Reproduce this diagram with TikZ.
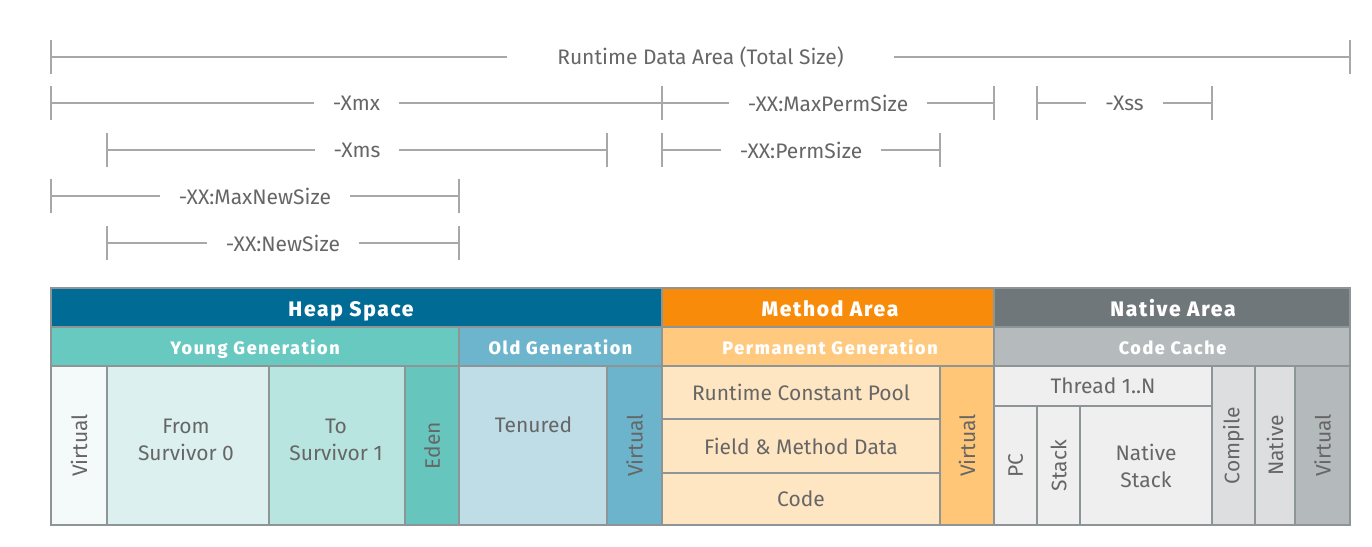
\documentclass[tikz,border=0pt]{standalone}
\usepackage{fontspec}
\setmainfont{Fira Sans}
\usetikzlibrary{arrows.meta}
\definecolor{dimc}{HTML}{A8A8A8}
\definecolor{txtc}{HTML}{666666}
\definecolor{bordc}{HTML}{8E9597}
\definecolor{heapc}{HTML}{006B95}
\definecolor{youngc}{HTML}{68C9C1}
\definecolor{oldc}{HTML}{6CB5CC}
\definecolor{virtyc}{HTML}{F4F9FA}
\definecolor{fromc}{HTML}{DCF1EF}
\definecolor{toc}{HTML}{B9E5E0}
\definecolor{edenc}{HTML}{66C6BE}
\definecolor{tenc}{HTML}{BEDDE7}
\definecolor{virtoc}{HTML}{6BB4CB}
\definecolor{methc}{HTML}{F88B0A}
\definecolor{permc}{HTML}{FFCA80}
\definecolor{permcellc}{HTML}{FFE6C2}
\definecolor{virtmc}{HTML}{FFC677}
\definecolor{natc}{HTML}{6F777A}
\definecolor{ccc}{HTML}{B5BBBD}
\definecolor{thrc}{HTML}{EFEFEF}
\definecolor{compc}{HTML}{DCDEDF}
\definecolor{virtnc}{HTML}{B4B9BB}
\newfontfamily\headfont[LetterSpace=8]{Fira Sans Medium}
\newfontfamily\bandfont[LetterSpace=9]{Fira Sans Medium}
\newcommand\mycell[7]{\node[#7, minimum width={(#4-#2)*1pt}, minimum height={(#5-#3)*1pt}] (#1) at ({(#2+#4)/2},{(#3+#5)/2}) {#6};}
\tikzset{
  dim/.style={draw=dimc, line width=1.6pt, shorten <=-0.8pt, shorten >=-0.8pt, {Bar[width=34pt]}-{Bar[width=34pt]}},
  dimlabel/.style={fill=white, inner xsep=19pt, inner ysep=2pt, text=txtc, font=\fontsize{21}{23}\selectfont},
  cell/.style={draw=bordc, line width=1.2pt, inner sep=0pt, outer sep=0pt, text=txtc, font=\fontsize{21}{27}\selectfont, align=center},
  headtext/.style={anchor=base, inner sep=0pt, text=white, font=\headfont\bfseries\fontsize{21}{23}\selectfont},
  bandtext/.style={anchor=base, inner sep=0pt, text=white, font=\bandfont\bfseries\fontsize{18}{20}\selectfont},
  celltext/.style={text=txtc, font=\fontsize{21}{27}\selectfont, align=center, inner sep=0pt},
}
\begin{document}
\begin{tikzpicture}[x=1pt,y=-1pt]
\useasboundingbox (0,0) rectangle (1372,546);
% dimension lines
\coordinate (rdaL) at (51,57);   \coordinate (rdaR) at (1350,57);
\coordinate (xmxL) at (51,103);  \coordinate (xmxR) at (662,103);
\coordinate (mpsL) at (662,103); \coordinate (mpsR) at (994,103);
\coordinate (xssL) at (1037,103);\coordinate (xssR) at (1212,103);
\coordinate (xmsL) at (107,150); \coordinate (xmsR) at (607,150);
\coordinate (psL) at (662,150);  \coordinate (psR) at (940,150);
\coordinate (mnsL) at (51,196);  \coordinate (mnsR) at (459,196);
\coordinate (nsL) at (107,243);  \coordinate (nsR) at (459,243);
\draw[dim] (rdaL) -- node[dimlabel, inner xsep=50pt] (rda) {Runtime Data Area (Total Size)} (rdaR);
\draw[dim] (xmxL) -- node[dimlabel] (xmx) {-Xmx} (xmxR);
\draw[dim] (mpsL) -- node[dimlabel] (mps) {-XX:MaxPermSize} (mpsR);
\draw[dim] (xssL) -- node[dimlabel] (xss) {-Xss} (xssR);
\draw[dim] (xmsL) -- node[dimlabel] (xms) {-Xms} (xmsR);
\draw[dim] (psL) -- node[dimlabel] (ps) {-XX:PermSize} (psR);
\draw[dim] (mnsL) -- node[dimlabel] (mns) {-XX:MaxNewSize} (mnsR);
\draw[dim] (nsL) -- node[dimlabel] (ns) {-XX:NewSize} (nsR);
% heap
\mycell{heap}{51}{288}{662}{327}{}{cell, fill=heapc}
\node[headtext] (heapt) at (351,316.5) {Heap Space};
\mycell{young}{51}{327}{459}{366}{}{cell, fill=youngc}
\node[bandtext] (youngt) at (255,354.5) {Young Generation};
\mycell{old}{459}{327}{662}{366}{}{cell, fill=oldc}
\node[bandtext] (oldt) at (560.5,354.5) {Old Generation};
\mycell{virty}{51}{366}{107}{525}{}{cell, fill=virtyc}
\node[celltext, rotate=90] (virtyt) at (virty) {Virtual};
\mycell{from}{107}{366}{269}{525}{}{cell, fill=fromc}
\node[celltext] (fromt) at (186,440) {From\\Survivor 0};
\mycell{to}{269}{366}{405}{525}{}{cell, fill=toc}
\node[celltext] (tot) at (336,440) {To\\Survivor 1};
\mycell{eden}{405}{366}{459}{525}{}{cell, fill=edenc}
\node[celltext, rotate=90] (edent) at (eden) {Eden};
\mycell{ten}{459}{366}{607}{525}{}{cell, fill=tenc}
\node[celltext, anchor=base] (tent) at (533.5,432.7) {Tenured};
\mycell{virto}{607}{366}{662}{525}{}{cell, fill=virtoc}
\node[celltext, rotate=90] (virtot) at (virto) {Virtual};
% method
\mycell{meth}{662}{288}{994}{327}{}{cell, fill=methc}
\node[headtext] (metht) at (830,316.5) {Method Area};
\mycell{perm}{662}{327}{994}{366}{}{cell, fill=permc}
\node[bandtext] (permt) at (830,354.5) {Permanent Generation};
\mycell{rcp}{662}{366}{940}{419}{Runtime Constant Pool}{cell, fill=permcellc}
\mycell{fmd}{662}{419}{940}{473}{Field \& Method Data}{cell, fill=permcellc}
\mycell{code}{662}{473}{940}{525}{Code}{cell, fill=permcellc}
\mycell{virtm}{940}{366}{994}{525}{}{cell, fill=virtmc}
\node[celltext, rotate=90] (virtmt) at (virtm) {Virtual};
% native
\mycell{nat}{994}{288}{1350}{327}{}{cell, fill=natc}
\node[headtext] (natt) at (1173,316.5) {Native Area};
\mycell{cc}{994}{327}{1350}{366}{}{cell, fill=ccc}
\node[bandtext] (cct) at (1172.5,354.5) {Code Cache};
\mycell{thr}{994}{366}{1212}{406}{Thread 1..N}{cell, fill=thrc}
\mycell{pc}{994}{406}{1037}{525}{}{cell, fill=thrc}
\node[celltext, rotate=90] (pct) at (pc) {PC};
\mycell{stk}{1037}{406}{1080}{525}{}{cell, fill=thrc}
\node[celltext, rotate=90] (stkt) at (stk) {Stack};
\mycell{nstk}{1080}{406}{1212}{525}{Native\\Stack}{cell, fill=thrc}
\mycell{comp}{1212}{366}{1255}{525}{}{cell, fill=compc}
\node[celltext, rotate=90] (compt) at (comp) {Compile};
\mycell{natc}{1255}{366}{1295}{525}{}{cell, fill=compc}
\node[celltext, rotate=90] (natct) at (natc) {Native};
\mycell{virtn}{1295}{366}{1350}{525}{}{cell, fill=virtnc}
\node[celltext, rotate=90] (virtnt) at (virtn) {Virtual};
\end{tikzpicture}
\end{document}
